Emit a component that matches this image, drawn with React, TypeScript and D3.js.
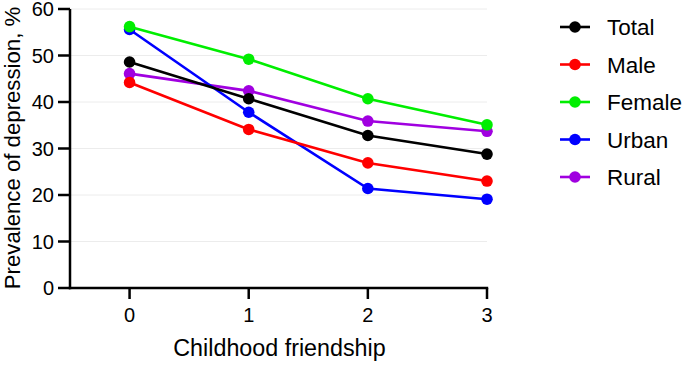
import React from 'react';
import * as d3 from 'd3';

const friendship = [0, 1, 2, 3];
const seriesNames = ['Total', 'Male', 'Female', 'Urban', 'Rural'];
const seriesColors = ['#000000', '#ff0000', '#00ee00', '#0000ff', '#a000e0'];
const totalValues = [48.6, 40.7, 32.8, 28.8];
const maleValues = [44.2, 34.1, 26.9, 23.0];
const femaleValues = [56.2, 49.2, 40.7, 35.1];
const urbanValues = [55.6, 37.8, 21.4, 19.1];
const ruralValues = [46.1, 42.4, 35.9, 33.7];
const yTicks = [0, 10, 20, 30, 40, 50, 60];

const allValues = [totalValues, maleValues, femaleValues, urbanValues, ruralValues];

const App: React.FC = () => {
  const width = 685;
  const height = 365;
  const font = '"Liberation Sans", Arial, sans-serif';

  const x = d3.scaleLinear().domain([-0.5, 3]).range([70, 487]);
  const y = d3.scaleLinear().domain([0, 60]).range([288, 9]);

  const line = d3.line<number>().x((_, i) => x(friendship[i])).y(d => y(d));

  const legendY = d3.scalePoint<string>().domain(seriesNames).range([27, 177]);

  // draw last series first so Total ends up on top
  const order = [4, 3, 2, 1, 0];

  return (
    <svg width={width} height={height} style={{ position: 'absolute', left: 0, top: 0, background: '#fff' }} fontFamily={font}>
      <g className="grid">
        {yTicks.filter(t => t > 0).map(t => (
          <line key={t} x1={x(-0.5)} x2={x(3)} y1={y(t)} y2={y(t)} stroke="#ececec" strokeWidth={1} />
        ))}
      </g>

      <g className="series">
        {order.map(si => (
          <g key={seriesNames[si]}>
            <path d={line(allValues[si]) || ''} fill="none" stroke={seriesColors[si]} strokeWidth={2.6} />
            {allValues[si].map((v, i) => (
              <circle key={i} cx={x(friendship[i])} cy={y(v)} r={5.8} fill={seriesColors[si]} />
            ))}
          </g>
        ))}
      </g>

      <g className="y-axis">
        <line x1={x(-0.5)} x2={x(-0.5)} y1={y(0) + 1.2} y2={y(60)} stroke="#000" strokeWidth={2.5} />
        {yTicks.map(t => (
          <g key={t}>
            <line x1={x(-0.5) - 12} x2={x(-0.5)} y1={y(t)} y2={y(t)} stroke="#000" strokeWidth={2.5} />
            <text x={x(-0.5) - 16} y={y(t)} dy="0.36em" textAnchor="end" fontSize={20} fill="#000">{t}</text>
          </g>
        ))}
        <text transform={`translate(19.5, 148) rotate(-90)`} textAnchor="middle" fontSize={22.2} fill="#000">
          Prevalence of depression, %
        </text>
      </g>

      <g className="x-axis">
        <line x1={x(-0.5) - 1.2} x2={x(3) + 1.2} y1={y(0)} y2={y(0)} stroke="#000" strokeWidth={2.5} />
        {friendship.map(f => (
          <g key={f}>
            <line x1={x(f)} x2={x(f)} y1={y(0)} y2={y(0) + 11} stroke="#000" strokeWidth={2.5} />
            <text x={x(f)} y={y(0) + 34} textAnchor="middle" fontSize={20} fill="#000">{f}</text>
          </g>
        ))}
        <text x={(x(-0.5) + x(3)) / 2 + 1} y={356} textAnchor="middle" fontSize={23.3} fill="#000">Childhood friendship</text>
      </g>

      <g className="legend">
        {seriesNames.map((name, i) => {
          const ly = legendY(name) as number;
          return (
            <g key={name}>
              <line x1={560} x2={590} y1={ly} y2={ly} stroke={seriesColors[i]} strokeWidth={2.6} />
              <circle cx={575} cy={ly} r={5.8} fill={seriesColors[i]} />
              <text x={607} y={ly} dy="0.36em" fontSize={22.5} fill="#000">{name}</text>
            </g>
          );
        })}
      </g>
    </svg>
  );
};

export default App;
